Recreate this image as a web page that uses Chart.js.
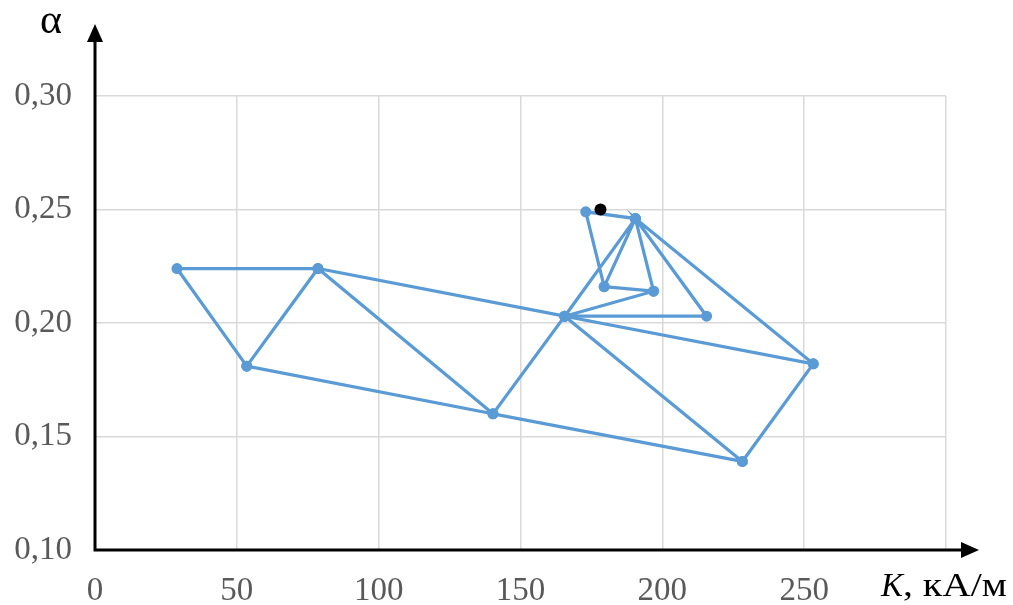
<!DOCTYPE html>
<html>

<head>
  <meta charset="UTF-8">
  <script src="https://cdn.jsdelivr.net/npm/chart.js@4.4.0/dist/chart.umd.min.js"></script>
  <style>
    body { margin: 0; background: #fff; }
  </style>
</head>

<body>
  <canvas id="myChart" width="1013" height="605"></canvas>
  <script>
    // nodes of the figure: K (kA/m) and alpha
    const nodeNames = ['A', 'B', 'C', 'D', 'E', 'F', 'H', 'I', 'J', 'K', 'L', 'M'];
    const kValues = [28.9, 53.5, 78.6, 140.3, 165.6, 173.0, 190.5, 179.5, 196.9, 215.6, 253.2, 228.2];
    const alphaValues = [0.224, 0.181, 0.224, 0.160, 0.203, 0.249, 0.246, 0.216, 0.214, 0.203, 0.182, 0.139];

    // order in which the nodes are joined by lines
    const trail1 = ['B', 'A', 'C', 'B', 'D', 'C', 'E', 'D', 'M', 'E', 'L', 'M'];
    const trail2 = ['L', 'H', 'K', 'E', 'H', 'F', 'I', 'H', 'J', 'E'];
    const trail3 = ['I', 'J'];

    // separate black point
    const markK = [178.2];
    const markAlpha = [0.250];

    const xTicks = [0, 50, 100, 150, 200, 250];
    const yTicks = [0.10, 0.15, 0.20, 0.25, 0.30];

    const blue = '#5B9BD5';

    function trailData(trail) {
      return trail.map(function (n) {
        let i = nodeNames.indexOf(n);
        return { x: kValues[i], y: alphaValues[i] };
      });
    }

    let datasets = [trail1, trail2, trail3].map(function (t) {
      return {
        data: trailData(t),
        showLine: true,
        order: 1,
        borderColor: blue,
        backgroundColor: blue,
        borderWidth: 3.25,
        pointRadius: 5.5,
        pointBorderWidth: 0,
        pointBackgroundColor: blue
      };
    });
    datasets.push({
      data: markK.map(function (k, i) { return { x: k, y: markAlpha[i] }; }),
      showLine: false,
      order: 0,
      pointRadius: 6,
      pointBorderWidth: 0,
      pointBackgroundColor: '#000',
      backgroundColor: '#000'
    });

    // black axes with arrows and axis titles
    const axesPlugin = {
      id: 'axesArrows',
      afterDraw: function (chart) {
        let c = chart.ctx;
        let a = chart.chartArea;
        let x0 = a.left, y0 = a.bottom;
        c.save();
        c.strokeStyle = '#000';
        c.fillStyle = '#000';
        c.lineWidth = 3;
        c.beginPath();
        c.moveTo(x0, y0);
        c.lineTo(x0, 40);
        c.moveTo(x0 - 1.5, y0);
        c.lineTo(963, y0);
        c.stroke();
        // arrow heads
        c.beginPath();
        c.moveTo(x0, 24);
        c.lineTo(x0 - 8, 42);
        c.lineTo(x0 + 8, 42);
        c.closePath();
        c.fill();
        c.beginPath();
        c.moveTo(979, y0);
        c.lineTo(961, y0 - 8);
        c.lineTo(961, y0 + 8);
        c.closePath();
        c.fill();
        // titles
        c.textBaseline = 'alphabetic';
        c.textAlign = 'left';
        c.font = '42px "Liberation Serif"';
        c.fillText('α', 40, 33);
        c.font = 'italic 33px "Liberation Serif"';
        c.fillText('K', 881, 596);
        let rx = 881 + c.measureText('K').width;
        c.font = '33px "Liberation Serif"';
        let rest = ', кА/м';
        let w = c.measureText(rest).width;
        let sx = (1007 - rx) / w;
        c.translate(rx, 596);
        c.scale(sx, 1);
        c.fillText(rest, 0, 0);
        c.restore();
      }
    };

    let ctx = document.getElementById('myChart').getContext('2d');
    let chart = new Chart(ctx, {
      type: 'scatter',
      data: { datasets: datasets },
      plugins: [axesPlugin],
      options: {
        responsive: false,
        animation: false,
        devicePixelRatio: 1,
        layout: { padding: { top: 96, right: 67, left: 0, bottom: 0 } },
        plugins: {
          legend: { display: false },
          tooltip: { enabled: false }
        },
        scales: {
          x: {
            type: 'linear',
            min: 0,
            max: 300,
            afterFit: function (s) { s.height = 55; },
            afterBuildTicks: function (s) {
              s.ticks = xTicks.concat([300]).map(function (v) { return { value: v }; });
            },
            ticks: {
              padding: 22,
              color: '#595959',
              font: { family: 'Liberation Serif', size: 33 },
              maxRotation: 0,
              callback: function (v) { return xTicks.indexOf(v) >= 0 ? String(v) : ''; }
            },
            grid: { color: '#d9d9d9', lineWidth: 1.5, drawTicks: false },
            border: { display: false }
          },
          y: {
            type: 'linear',
            min: 0.10,
            max: 0.30,
            afterFit: function (s) { s.width = 95; },
            afterBuildTicks: function (s) {
              s.ticks = yTicks.map(function (v) { return { value: v }; });
            },
            ticks: {
              padding: 23,
              color: '#595959',
              font: { family: 'Liberation Serif', size: 33 },
              callback: function (v) { return v.toFixed(2).replace('.', ','); }
            },
            grid: { color: '#d9d9d9', lineWidth: 1.5, drawTicks: false },
            border: { display: false }
          }
        }
      }
    });
  </script>
</body>

</html>
